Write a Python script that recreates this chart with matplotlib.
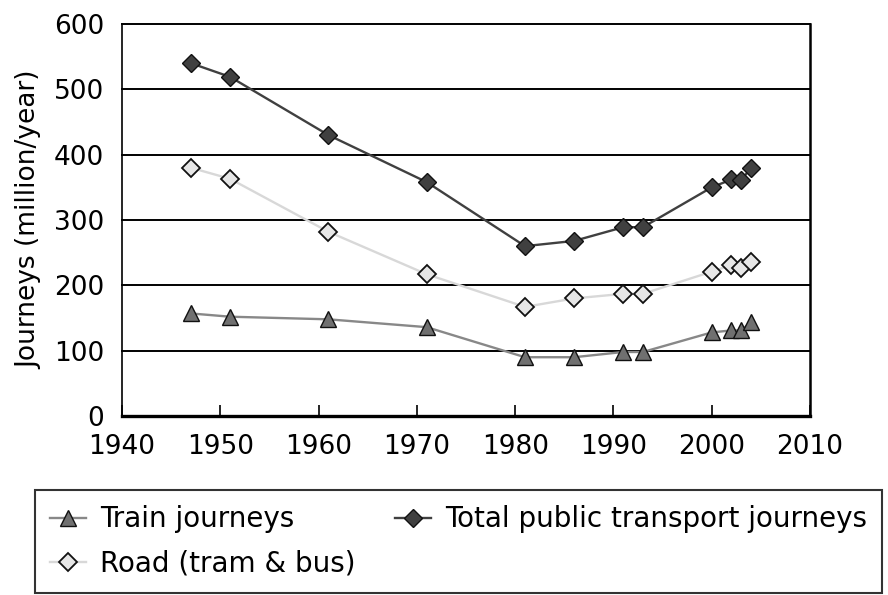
import matplotlib.pyplot as plt

years = [1947, 1951, 1961, 1971, 1981, 1986, 1991, 1993, 2000, 2002, 2003, 2004]
train = [157, 152, 148, 136, 90, 90, 98, 98, 128, 131, 131, 144]
road = [380, 363, 282, 217, 167, 180, 187, 187, 221, 231, 226, 235]
total = [540, 519, 430, 358, 260, 268, 289, 289, 350, 362, 361, 380]

x_ticks = [1940, 1950, 1960, 1970, 1980, 1990, 2000, 2010]
y_ticks = [0, 100, 200, 300, 400, 500, 600]


def main():
    plt.rcParams['font.family'] = ['DejaVu Sans']
    fig = plt.figure(figsize=(8.88, 5.95), dpi=100)
    ax = fig.add_axes([0.1374, 0.3008, 0.7748, 0.6589])

    # horizontal grid in black, drawn under the series
    for y in y_ticks[1:]:
        ax.axhline(y, color='black', lw=1.4, zorder=1, clip_on=False)

    ax.plot(years, train, color='#888888', lw=1.7, marker='^', ms=12,
            mfc='#707070', mec='#111111', mew=1.0, label='Train journeys', zorder=3)
    ax.plot(years, road, color='#d8d8d8', lw=1.7, marker='D', ms=9,
            mfc='#e6e6e6', mec='#111111', mew=1.3, label='Road (tram & bus)', zorder=3)
    ax.plot(years, total, color='#404040', lw=1.7, marker='D', ms=9,
            mfc='#404040', mec='#111111', mew=1.0,
            label='Total public transport journeys', zorder=3)

    ax.set_xlim(1940, 2010)
    ax.set_ylim(0, 600)
    ax.set_xticks(x_ticks)
    ax.set_yticks(y_ticks)
    ax.tick_params(axis='x', direction='in', length=8, width=1.2, pad=13,
                   labelsize=19, colors='black')
    ax.tick_params(axis='y', length=0, pad=13, labelsize=19)

    ax.spines['top'].set_visible(False)
    ax.spines['left'].set_linewidth(1.2)
    ax.spines['right'].set_linewidth(1.8)
    ax.spines['bottom'].set_linewidth(2.4)

    ax.set_ylabel('Journeys (million/year)', fontsize=19)
    ax.yaxis.set_label_coords(-0.116, 0.5)

    leg = fig.legend(loc='upper left', bbox_to_anchor=(35 / 888, 1 - 490 / 595),
                     ncol=2, fontsize=20, frameon=True, fancybox=False,
                     borderpad=0.55, handlelength=1.3, handletextpad=0.5,
                     labelspacing=0.6, columnspacing=1.4, borderaxespad=0)
    leg.get_frame().set_edgecolor('black')
    leg.get_frame().set_linewidth(1.5)

    plt.savefig('out.png', dpi=100)
    plt.close()


if __name__ == '__main__':
    main()
